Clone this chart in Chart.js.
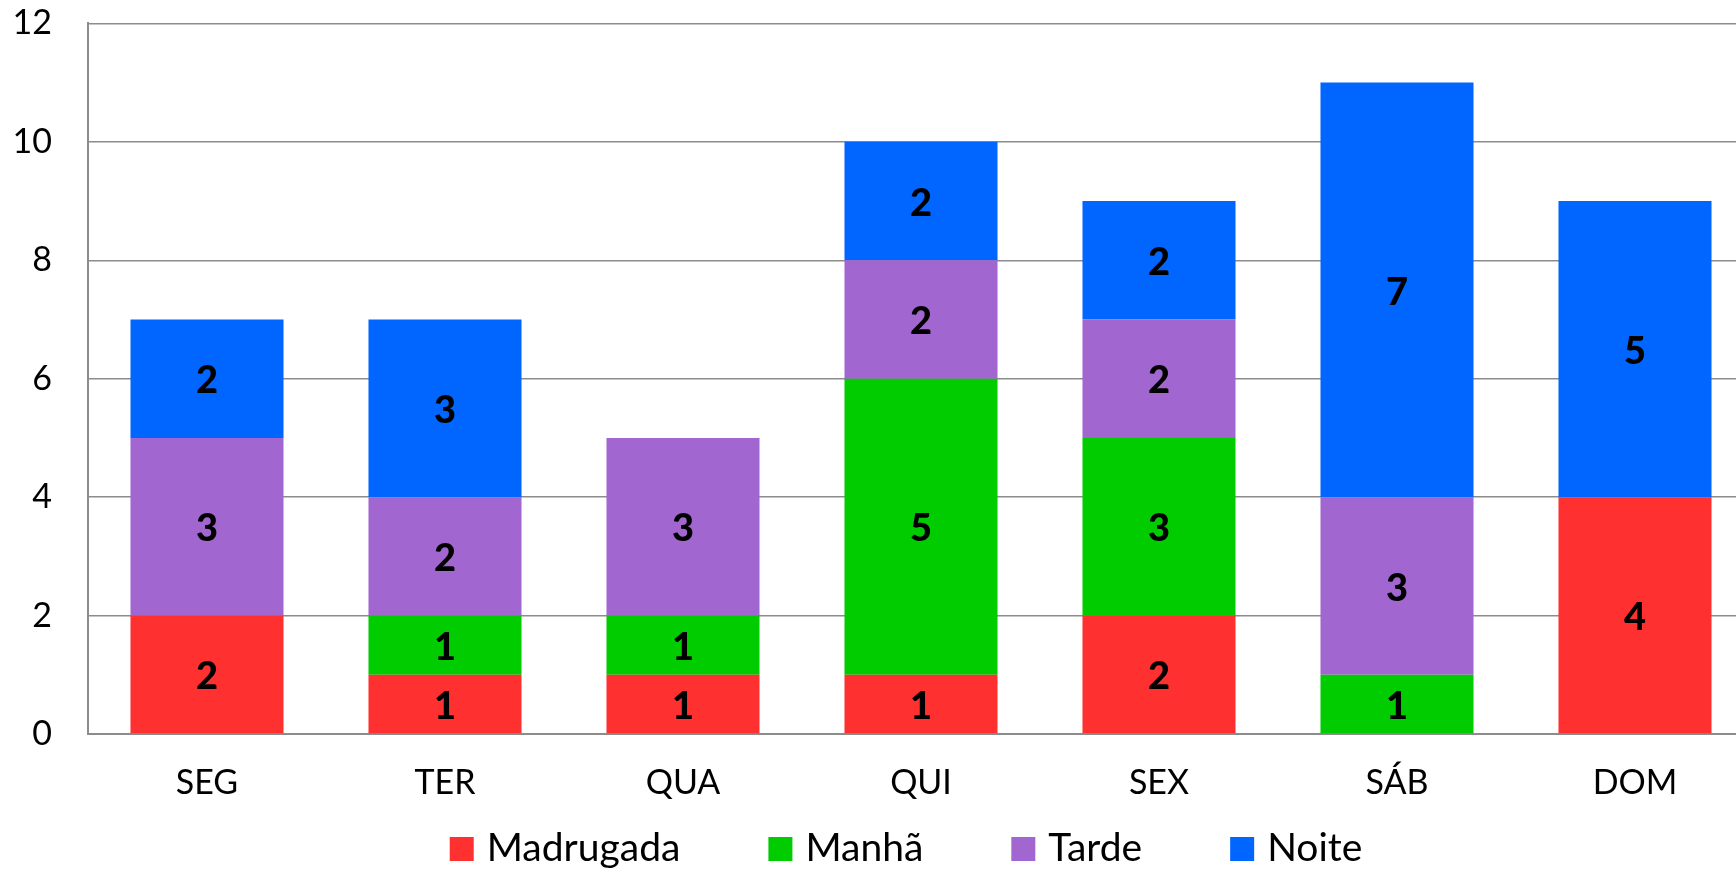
<!DOCTYPE html>
<html>
<head>
<meta charset="utf-8">
<script src="https://cdn.jsdelivr.net/npm/chart.js@4.4.1/dist/chart.umd.min.js"></script>
<style>
html,body{margin:0;padding:0;overflow:hidden;background:#fff;width:1736px;height:869px;}
#wrap{position:absolute;left:0;top:-33px;}
</style>
</head>
<body>
<div id="wrap"><canvas id="c" width="1760" height="902"></canvas></div>
<script>
const categories = ['SEG', 'TER', 'QUA', 'QUI', 'SEX', 'SÁB', 'DOM'];
const seriesNames = ['Madrugada', 'Manhã', 'Tarde', 'Noite'];
const madrugada = [2, 1, 1, 1, 2, null, 4];
const manha     = [null, 1, 1, 5, 3, 1, null];
const tarde     = [3, 2, 3, 2, 2, 3, null];
const noite     = [2, 3, null, 2, 2, 7, 5];
const yTicks = [0, 2, 4, 6, 8, 10, 12];
const colors = ['#FF3030', '#00CC00', '#A266D1', '#0066FF'];

const FONT = 'Lato, "Open Sans", sans-serif';

const valueLabels = {
  id: 'valueLabels',
  afterDatasetsDraw(chart) {
    const ctx = chart.ctx;
    const size = 38;
    ctx.save();
    ctx.font = '900 ' + size + 'px ' + FONT;
    ctx.fillStyle = '#000';
    ctx.textAlign = 'center';
    ctx.textBaseline = 'alphabetic';
    chart.data.datasets.forEach((ds, i) => {
      const meta = chart.getDatasetMeta(i);
      meta.data.forEach((bar, j) => {
        const v = ds.data[j];
        if (v === null || v === 0) return;
        const cy = (bar.y + bar.base) / 2;
        ctx.fillText(String(v), bar.x, cy + 0.36 * size + 1);
      });
    });
    ctx.restore();
  }
};

const bottomLegend = {
  id: 'bottomLegend',
  afterDraw(chart) {
    const ctx = chart.ctx;
    const size = 39;
    const box = 24, gapText = 13, gapItem = 88, center = 906, baseline = 894;
    ctx.save();
    ctx.font = size + 'px ' + FONT;
    const items = chart.data.datasets.map(ds => ({
      label: ds.label, color: ds.backgroundColor, w: ctx.measureText(ds.label).width
    }));
    const total = items.reduce((s, it) => s + box + gapText + it.w, 0) + gapItem * (items.length - 1);
    let x = center - total / 2;
    items.forEach(it => {
      ctx.fillStyle = it.color;
      ctx.fillRect(x, baseline - box, box, box);
      ctx.fillStyle = '#000';
      ctx.textAlign = 'left';
      ctx.textBaseline = 'alphabetic';
      ctx.fillText(it.label, x + box + gapText, baseline);
      x += box + gapText + it.w + gapItem;
    });
    ctx.restore();
  }
};

const seriesData = [madrugada, manha, tarde, noite];

new Chart(document.getElementById('c'), {
  type: 'bar',
  data: {
    labels: categories,
    datasets: seriesNames.map((name, i) => ({
      label: name,
      data: seriesData[i],
      backgroundColor: colors[i],
      borderWidth: 0,
      barPercentage: 0.643,
      categoryPercentage: 1.0
    }))
  },
  options: {
    responsive: false,
    animation: false,
    devicePixelRatio: 1,
    layout: { padding: { left: 0, top: 2, right: 6, bottom: 0 } },
    plugins: {
      legend: { display: false },
      title: { display: false },
      tooltip: { enabled: false }
    },
    scales: {
      x: {
        stacked: true,
        grid: { display: false, drawTicks: false },
        border: { display: true, color: '#8c8c8c', width: 2 },
        ticks: { color: '#000', font: { family: FONT, size: 34 }, padding: 29, maxRotation: 0 },
        afterFit(scale) { scale.height = 135; }
      },
      y: {
        stacked: true,
        min: 0,
        max: 12,
        afterBuildTicks(scale) { scale.ticks = yTicks.map(v => ({ value: v })); },
        grid: { color: '#8c8c8c', lineWidth: 1.5, drawTicks: false },
        border: { display: true, color: '#8c8c8c', width: 2 },
        ticks: { color: '#000', font: { family: FONT, size: 34 }, padding: 36 },
        afterFit(scale) { scale.width = 88; }
      }
    }
  },
  plugins: [valueLabels, bottomLegend]
});
</script>
</body>
</html>
